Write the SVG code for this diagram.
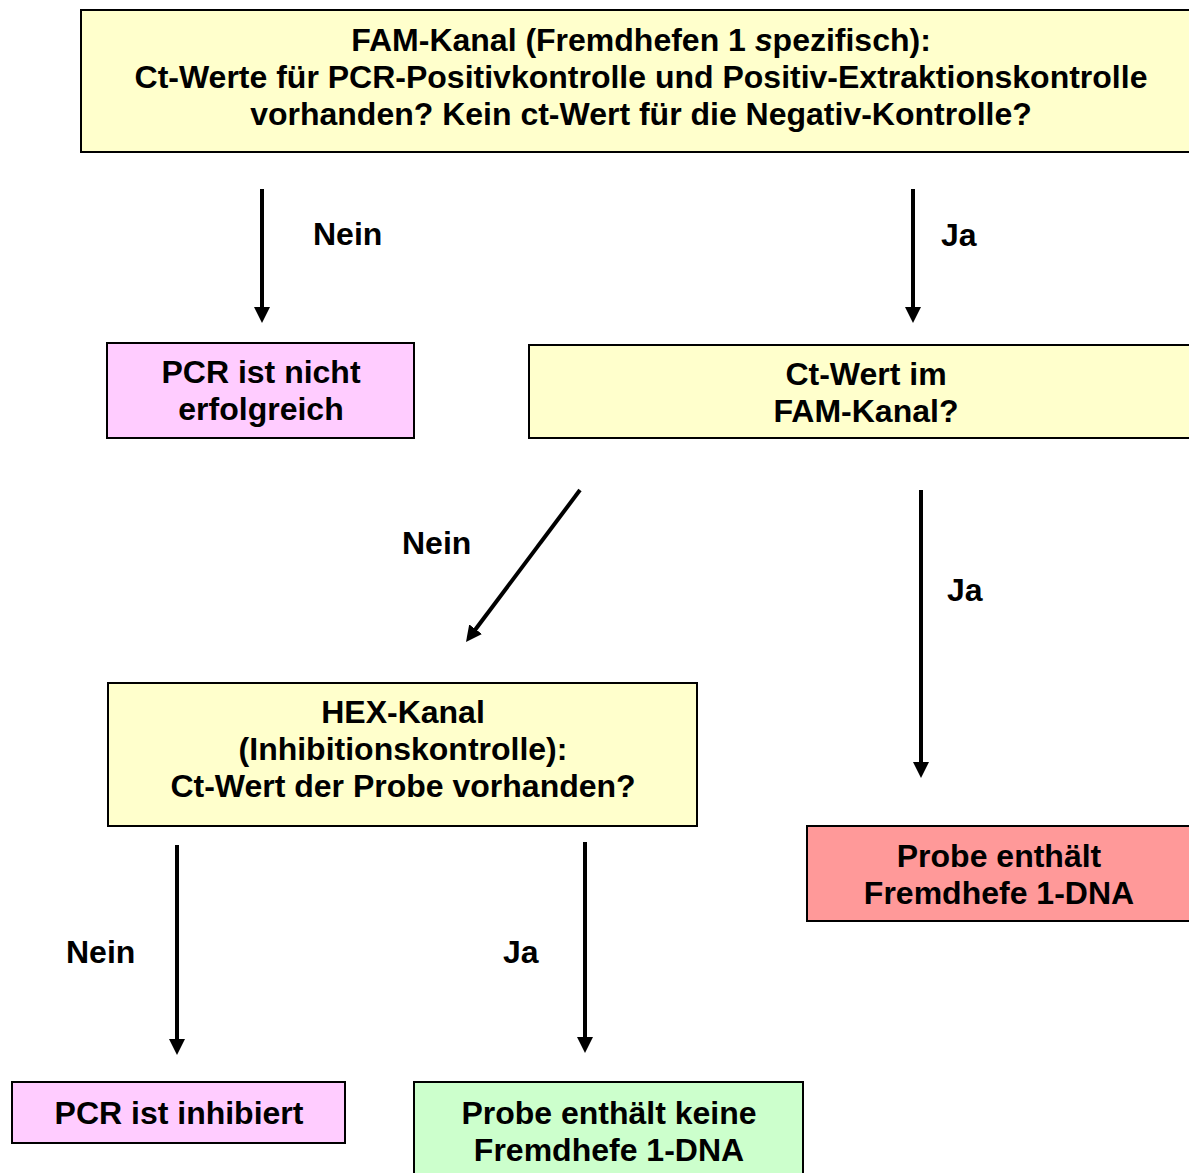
<svg xmlns="http://www.w3.org/2000/svg" width="1189" height="1173" viewBox="0 0 1189 1173">
<style>
.box{stroke:#000;stroke-width:2}
.y{fill:#FFFFCC}.p{fill:#FFCCFF}.r{fill:#FF9999}.g{fill:#CCFFCC}
text{font-family:"Liberation Sans",Arial,sans-serif;font-weight:bold;font-size:32px;fill:#000}
.c{text-anchor:middle}
.a{stroke:#000;stroke-width:4;fill:none}
</style>
<defs>
<marker id="ah" markerUnits="userSpaceOnUse" markerWidth="17" markerHeight="16" refX="1" refY="8" orient="auto" viewBox="0 0 17 16">
<path d="M0,0 L16,8 L0,16 z" fill="#000"/>
</marker>
</defs>
<rect width="1189" height="1173" fill="#fff"/>
<g id="n1">
<rect class="box y" x="81" y="10" width="1121" height="142"/>
<text class="c" x="641" y="51">FAM-Kanal (Fremdhefen 1 <tspan font-style="italic">s</tspan>pezifisch):</text>
<text class="c" x="641" y="88">Ct-Werte für PCR-Positivkontrolle und Positiv-Extraktionskontrolle</text>
<text class="c" x="641" y="125">vorhanden? Kein ct-Wert für die Negativ-Kontrolle?</text>
</g>
<g id="n2">
<rect class="box p" x="107" y="343" width="307" height="95"/>
<text class="c" x="261" y="383">PCR ist nicht</text>
<text class="c" x="261" y="420">erfolgreich</text>
</g>
<g id="n3">
<rect class="box y" x="529" y="345" width="674" height="93"/>
<text class="c" x="866" y="385">Ct-Wert im</text>
<text class="c" x="866" y="422">FAM-Kanal?</text>
</g>
<g id="n4">
<rect class="box y" x="108" y="683" width="589" height="143"/>
<text class="c" x="403" y="723">HEX-Kanal</text>
<text class="c" x="403" y="760">(Inhibitionskontrolle):</text>
<text class="c" x="403" y="797">Ct-Wert der Probe vorhanden?</text>
</g>
<g id="n5">
<rect class="box r" x="807" y="826" width="384" height="95"/>
<text class="c" x="999" y="867">Probe enthält</text>
<text class="c" x="999" y="904">Fremdhefe 1-DNA</text>
</g>
<g id="n6">
<rect class="box p" x="12" y="1082" width="333" height="61"/>
<text class="c" x="179" y="1124">PCR ist inhibiert</text>
</g>
<g id="n7">
<rect class="box g" x="414" y="1082" width="389" height="110"/>
<text class="c" x="609" y="1124">Probe enthält keine</text>
<text class="c" x="609" y="1161">Fremdhefe 1-DNA</text>
</g>
<g id="connectors">
<line class="a" x1="262" y1="189" x2="262" y2="308" marker-end="url(#ah)"/>
<line class="a" x1="913" y1="189" x2="913" y2="308" marker-end="url(#ah)"/>
<line class="a" x1="580" y1="490" x2="475" y2="630" marker-end="url(#ah)"/>
<line class="a" x1="921" y1="490" x2="921" y2="763" marker-end="url(#ah)"/>
<line class="a" x1="177" y1="845" x2="177" y2="1040" marker-end="url(#ah)"/>
<line class="a" x1="585" y1="842" x2="585" y2="1038" marker-end="url(#ah)"/>
<text x="313" y="245">Nein</text>
<text x="941" y="246">Ja</text>
<text x="402" y="554">Nein</text>
<text x="947" y="601">Ja</text>
<text x="66" y="963">Nein</text>
<text x="503" y="963">Ja</text>
</g>
</svg>
